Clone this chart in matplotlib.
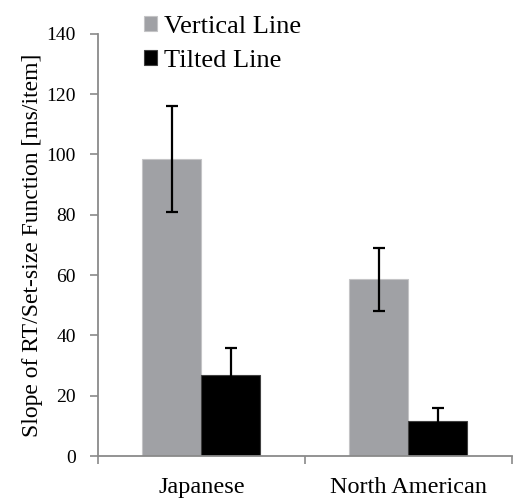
import numpy as np
import matplotlib.pyplot as plt

plt.rcParams['font.family'] = ['Liberation Serif', 'DejaVu Serif']

groups = ['Japanese', 'North American']
series = ['Vertical Line', 'Tilted Line']
vertical = [98.5, 58.6]
vertical_err = [17.5, 10.5]
tilted = [26.8, 11.5]
tilted_err = [9.0, 4.4]

gray = '#a0a1a5'
axis_col = '#8a8a8a'

fig = plt.figure(figsize=(5.24, 5.04), dpi=100)
ax = fig.add_axes([0.187, 0.095, 0.790, 0.838])

x = np.arange(len(groups))
w = 0.285
ax.bar(x - w / 2, vertical, w, color=gray, edgecolor='#c4c4c6', linewidth=0.8,
       label=series[0], zorder=2)
ax.bar(x + w / 2, tilted, w, color='black', edgecolor='#404040', linewidth=0.8,
       label=series[1], zorder=2)
ax.errorbar(x - w / 2, vertical, yerr=vertical_err, fmt='none', ecolor='black',
            elinewidth=1.6, capsize=4.5, capthick=1.6, zorder=3)
ax.errorbar(x + w / 2, tilted, yerr=tilted_err, fmt='none', ecolor='black',
            elinewidth=1.6, capsize=4.5, capthick=1.6, zorder=3)

ax.set_xlim(-0.5, 1.5)
ax.set_ylim(0, 140)
ax.set_yticks(np.arange(0, 141, 20))
ax.set_xticks(x)
ax.set_xticklabels(groups, fontsize=17.5)
ax.tick_params(axis='x', length=0, pad=15)
ax.set_xticks([-0.5, 0.5, 1.5], minor=True)
ax.tick_params(axis='x', which='minor', length=6, width=1.2, color=axis_col,
               direction='out')
ax.tick_params(axis='y', length=6, width=1.2, color=axis_col, labelsize=14,
               pad=10)

for side in ['top', 'right']:
    ax.spines[side].set_visible(False)
for side in ['left', 'bottom']:
    ax.spines[side].set_color(axis_col)
    ax.spines[side].set_linewidth(1.3)

ax.set_ylabel('Slope of RT/Set-size Function [ms/item]', fontsize=17,
              labelpad=2)

ax.legend(loc='upper left', bbox_to_anchor=(0.254, 0.99),
          bbox_transform=fig.transFigure, frameon=False, fontsize=19,
          handlelength=0.52, handleheight=0.52, handletextpad=0.25,
          labelspacing=0.45, borderaxespad=0)

fig.savefig('out.png', dpi=100)
